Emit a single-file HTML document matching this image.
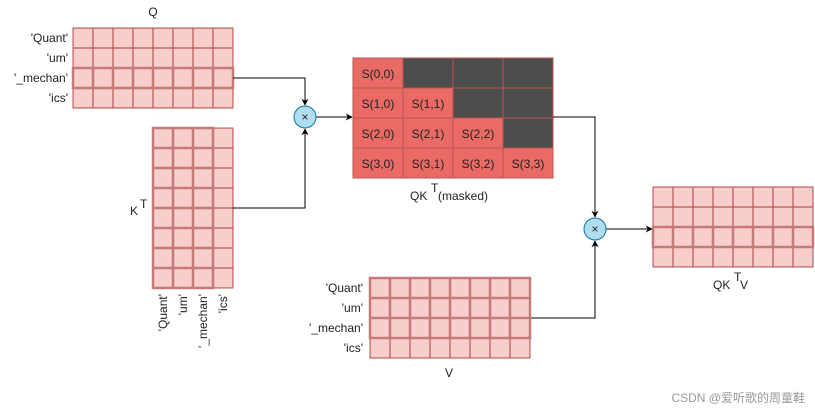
<!DOCTYPE html>
<html><head><meta charset="utf-8"><style>
body{margin:0;background:#fff;width:815px;height:414px;overflow:hidden}
text{font-family:"Liberation Sans","Noto Sans CJK SC",sans-serif;font-size:12px;fill:#222}
</style></head><body>
<svg width="815" height="414" xmlns="http://www.w3.org/2000/svg">
<defs>
<marker id="a" viewBox="0 0 10 10" refX="9" refY="5" markerWidth="7" markerHeight="7" orient="auto"><path d="M0,0L10,5L0,10L3,5z" fill="#000"/></marker>
<pattern id="g" width="20" height="20" patternUnits="userSpaceOnUse"><rect width="20" height="20" fill="#f8cecc" stroke="#b85450" stroke-width="1.2"/></pattern>
</defs>
<!-- Q -->
<g transform="translate(73,28)"><rect width="160" height="80" fill="url(#g)" stroke="#b85450"/>
<g fill="none" stroke="#c47a77" stroke-width="2.5"><rect x="0" y="40" width="160" height="20"/>
<path d="M20 40v20M40 40v20M60 40v20M80 40v20M100 40v20M120 40v20M140 40v20"/></g></g>
<text x="153" y="16" text-anchor="middle" font-size="13">Q</text>
<g text-anchor="end"><text x="68" y="42">'Quant'</text><text x="68" y="62">'um'</text><text x="68" y="82">'_mechan'</text><text x="68" y="102">'ics'</text></g>
<!-- K^T -->
<g transform="translate(153,128)"><rect width="80" height="160" fill="url(#g)" stroke="#b85450"/>
<g fill="none" stroke="#c47a77" stroke-width="2.5"><rect x="0" y="0" width="60" height="160"/>
<path d="M20 0v160M40 0v160M0 20h60M0 40h60M0 60h60M0 80h60M0 100h60M0 120h60M0 140h60"/></g></g>
<text x="130" y="215" font-size="13">K</text><text x="140" y="208" font-size="9">T</text>
<g text-anchor="end"><text transform="translate(167,294) rotate(-90)">'Quant'</text><text transform="translate(187,294) rotate(-90)">'um'</text><text transform="translate(207,294) rotate(-90)">'_mechan'</text><text transform="translate(227,294) rotate(-90)">'ics'</text></g>
<!-- connectors 1 -->
<g fill="none" stroke="#000" stroke-width="1"><path d="M233 78H305V105" marker-end="url(#a)"/><path d="M233 208H305V129" marker-end="url(#a)"/><path d="M316 117H352" marker-end="url(#a)"/></g>
<circle cx="305" cy="117" r="11" fill="#b1ddf0" stroke="#10739e"/><text x="305" y="121" text-anchor="middle" font-size="11">×</text>
<!-- QK -->
<g stroke="#b85450" stroke-width="1">
<rect x="353" y="58" width="200" height="120" fill="#ea6b66"/>
<rect x="403" y="58" width="150" height="30" fill="#4d4d4d"/><rect x="453" y="88" width="100" height="30" fill="#4d4d4d"/><rect x="503" y="118" width="50" height="30" fill="#4d4d4d"/>
<path d="M353 88h200M353 118h200M353 148h200M403 58v120M453 58v120M503 58v120" fill="none"/></g>
<g text-anchor="middle"><text x="378" y="78">S(0,0)</text><text x="378" y="108">S(1,0)</text><text x="428" y="108">S(1,1)</text>
<text x="378" y="138">S(2,0)</text><text x="428" y="138">S(2,1)</text><text x="478" y="138">S(2,2)</text>
<text x="378" y="168">S(3,0)</text><text x="428" y="168">S(3,1)</text><text x="478" y="168">S(3,2)</text><text x="528" y="168">S(3,3)</text></g>
<text x="410" y="200" font-size="13">QK</text><text x="431" y="192" font-size="9">T</text><text x="438" y="200">(masked)</text>
<!-- connectors 2 -->
<g fill="none" stroke="#000"><path d="M553 117H595V217" marker-end="url(#a)"/><path d="M530 318H595V241" marker-end="url(#a)"/><path d="M606 229H652" marker-end="url(#a)"/></g>
<circle cx="595" cy="229" r="11" fill="#b1ddf0" stroke="#10739e"/><text x="595" y="233" text-anchor="middle" font-size="11">×</text>
<!-- Output -->
<g transform="translate(653,187)"><rect width="160" height="80" fill="url(#g)" stroke="#b85450"/>
<g fill="none" stroke="#c47a77" stroke-width="2.5"><rect x="0" y="40" width="160" height="20"/>
<path d="M20 40v20M40 40v20M60 40v20M80 40v20M100 40v20M120 40v20M140 40v20"/></g></g>
<text x="713" y="289" font-size="13">QK</text><text x="734" y="281" font-size="9">T</text><text x="740" y="289" font-size="13">V</text>
<!-- V -->
<g transform="translate(370,278)"><rect width="160" height="80" fill="url(#g)" stroke="#b85450"/>
<g fill="none" stroke="#c47a77" stroke-width="2.5"><rect x="0" y="0" width="160" height="60"/>
<path d="M20 0v60M40 0v60M60 0v60M80 0v60M100 0v60M120 0v60M140 0v60M0 20h160M0 40h160"/></g></g>
<g text-anchor="end"><text x="363" y="292">'Quant'</text><text x="363" y="312">'um'</text><text x="363" y="332">'_mechan'</text><text x="363" y="352">'ics'</text></g>
<text x="449" y="377" text-anchor="middle" font-size="13">V</text>
<text x="805" y="402" text-anchor="end" style="fill:#999;font-size:12px">CSDN @爱听歌的周童鞋</text>
</svg>
</body></html>
